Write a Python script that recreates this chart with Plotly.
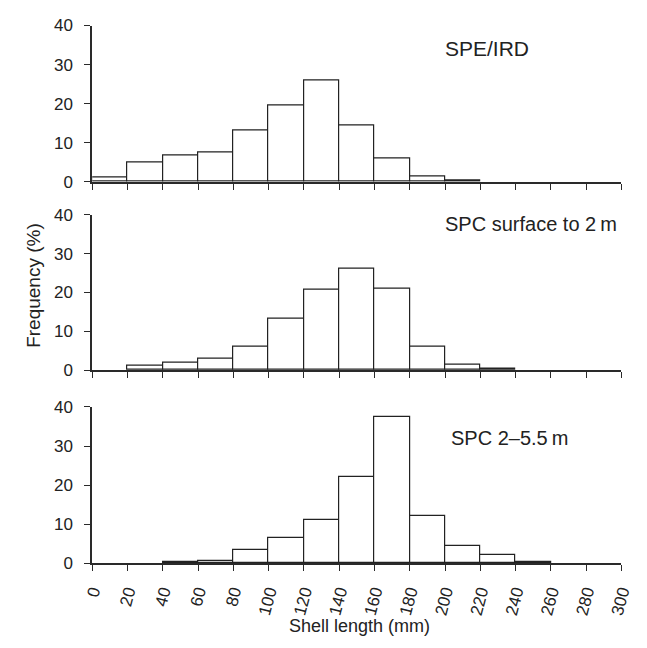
import plotly.graph_objects as go

bin_starts = list(range(0, 300, 20))
x_ticks = list(range(0, 301, 20))
y_ticks = [0, 10, 20, 30, 40]

freq_spe_ird = [1.2, 5.0, 6.6, 7.6, 13.2, 19.5, 25.8, 14.3, 6.0, 1.4, 0.3, 0, 0, 0, 0]
freq_spc_0_2 = [0, 1.2, 1.8, 2.8, 6.0, 13.2, 20.7, 26.2, 20.9, 5.9, 1.3, 0.25, 0, 0, 0]
freq_spc_2_55 = [0, 0, 0.3, 0.6, 3.3, 6.4, 11.2, 22.2, 37.4, 12.2, 4.4, 2.2, 0.25, 0, 0]

panel_labels = ["SPE/IRD", "SPC surface to 2\u2009m", "SPC 2\u20135.5\u2009m"]
series = [freq_spe_ird, freq_spc_0_2, freq_spc_2_55]

W, H = 647, 648
xdom = [86 / W, 633 / W]
# (zero pixel, forty pixel) per panel
ypix = [(178, 17), (372, 212), (571, 410)]
label_pos = [(449, 41), (449, 222), (455, 442)]

FONT = "Liberation Sans, Arial, sans-serif"
INK = "#222222"
AX = "#2a2a2a"

fig = go.Figure()
centers = [s + 10 for s in bin_starts]

for i, vals in enumerate(series):
    k = "" if i == 0 else str(i + 1)
    fig.add_trace(go.Bar(
        x=centers, y=[v if v > 0 else None for v in vals],
        width=[20] * len(centers),
        marker=dict(color="white", line=dict(color=INK, width=1.2)),
        xaxis="x" + k, yaxis="y" + k, showlegend=False, hoverinfo="skip",
    ))
    z, f = ypix[i]
    fig.layout["xaxis" + k] = dict(
        domain=xdom, range=[0, 300], anchor="y" + k,
        tickmode="array", tickvals=x_ticks,
        ticktext=[str(v) for v in x_ticks],
        showticklabels=(i == 2), tickangle=-75, ticklabelstandoff=4,
        ticks="outside", ticklen=6, tickwidth=1.3, tickcolor=AX,
        showline=True, linecolor=AX, linewidth=1.6,
        showgrid=False, zeroline=False,
        tickfont=dict(family=FONT, size=17, color=INK),
    )
    fig.layout["yaxis" + k] = dict(
        domain=[1 - z / H, 1 - f / H], range=[0, 40], anchor="x" + k,
        tickmode="array", tickvals=y_ticks, ticklabelstandoff=8,
        ticks="outside", ticklen=6, tickwidth=1.3, tickcolor=AX,
        showline=True, linecolor=AX, linewidth=1.6,
        showgrid=False, zeroline=False,
        tickfont=dict(family=FONT, size=17, color=INK),
    )
    lx, ly = label_pos[i]
    fig.add_annotation(
        text=panel_labels[i], xref="paper", yref="paper",
        x=lx / W, y=1 - ly / H, xanchor="left", yanchor="middle",
        showarrow=False,
        font=dict(family=FONT, size=21 if i == 0 else 20, color=INK),
    )

fig.add_annotation(
    text="Frequency (%)", xref="paper", yref="paper",
    x=25 / W, y=1 - 285 / H, xanchor="center", yanchor="middle",
    textangle=-90, showarrow=False,
    font=dict(family=FONT, size=19, color=INK),
)
fig.add_annotation(
    text="Shell length (mm)", xref="paper", yref="paper",
    x=362 / W, y=1 - 636 / H, xanchor="center", yanchor="middle",
    showarrow=False, font=dict(family=FONT, size=18, color=INK),
)

fig.update_layout(
    width=W, height=H,
    margin=dict(l=0, r=0, t=0, b=0),
    paper_bgcolor="white", plot_bgcolor="white",
    bargap=0,
)

fig.write_html(
    "out.html",
    config={"displayModeBar": False},
    post_script="document.body.style.margin='0';document.body.style.overflow='hidden';",
)
